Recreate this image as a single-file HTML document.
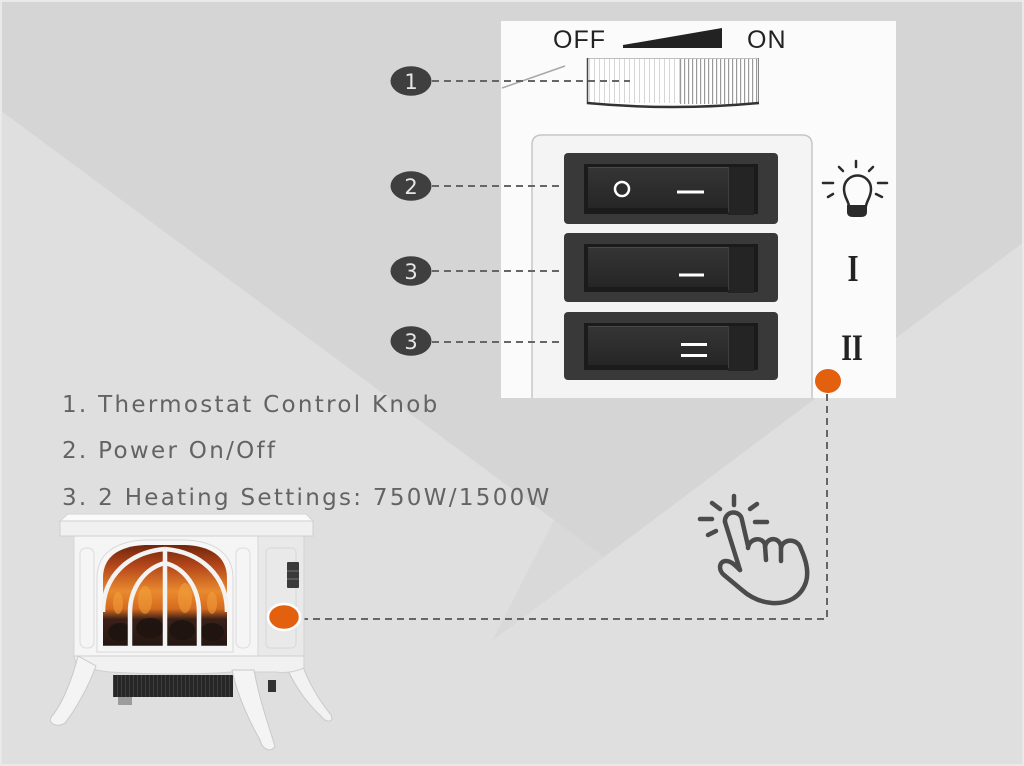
<!DOCTYPE html>
<html><head><meta charset="utf-8">
<style>
html,body{margin:0;padding:0;}
body{width:1024px;height:766px;overflow:hidden;background:#dfdfdf;position:relative;}
svg{position:absolute;left:0;top:0;display:block;}
</style></head><body>
<svg width="1024" height="766" viewBox="0 0 1024 766" xmlns="http://www.w3.org/2000/svg">
<defs>
  <pattern id="ribL" width="5" height="60" patternUnits="userSpaceOnUse" x="589">
    <rect x="0" y="0" width="1" height="60" fill="#d6d6d6"/>
  </pattern>
  <pattern id="ribR" width="4" height="60" patternUnits="userSpaceOnUse" x="680">
    <rect x="0" y="0" width="1.2" height="60" fill="#9a9a9a"/>
  </pattern>
  <linearGradient id="fire" x1="0" y1="0" x2="0" y2="1">
    <stop offset="0" stop-color="#6e260c"/>
    <stop offset="0.2" stop-color="#b4461a"/>
    <stop offset="0.45" stop-color="#e98a2e"/>
    <stop offset="0.62" stop-color="#d56a1e"/>
    <stop offset="0.72" stop-color="#3b2018"/>
    <stop offset="1" stop-color="#221511"/>
  </linearGradient>
  <pattern id="grill" width="4" height="22" patternUnits="userSpaceOnUse" x="113" y="675">
    <rect width="4" height="22" fill="#262626"/>
    <rect x="0" y="0" width="1" height="22" fill="#3e3e3e"/>
  </pattern>
  <linearGradient id="rock" x1="0" y1="0" x2="0" y2="1">
    <stop offset="0" stop-color="#353535"/>
    <stop offset="1" stop-color="#262626"/>
  </linearGradient>
</defs>

<!-- background -->
<rect width="1024" height="766" fill="#dfdfdf"/>
<polygon points="0,0 1024,0 1024,242 604,557 0,110" fill="#d5d5d5"/>
<polygon points="554,520 604,557 492,641" fill="#d9d9d9"/>
<rect x="1" y="1" width="1022" height="764" fill="none" stroke="#e9e9e9" stroke-width="2"/>

<!-- panel -->
<rect x="501" y="21" width="395" height="377" fill="#fbfbfb"/>
<path d="M532,398 V145 Q532,135 542,135 H802 Q812,135 812,145 V398" fill="#f4f4f4" stroke="#c6c6c6" stroke-width="1.5"/>

<!-- OFF / ON -->
<text x="553" y="48" font-family="Liberation Sans, sans-serif" font-size="25" fill="#222" style="letter-spacing:1px">OFF</text>
<text x="747" y="48" font-family="Liberation Sans, sans-serif" font-size="25" fill="#222" style="letter-spacing:1px">ON</text>
<polygon points="623,45 722,28 722,48 623,48" fill="#222"/>

<!-- knob -->
<rect x="587" y="58" width="172" height="46" fill="#ffffff"/>
<rect x="589" y="59" width="91" height="44" fill="url(#ribL)"/>
<rect x="680" y="59" width="78" height="45" fill="url(#ribR)"/>
<line x1="587" y1="58.5" x2="759" y2="58.5" stroke="#bdbdbd" stroke-width="1"/>
<line x1="587.5" y1="58" x2="587.5" y2="104" stroke="#444" stroke-width="1.5"/>
<line x1="758.5" y1="58" x2="758.5" y2="104" stroke="#888" stroke-width="1"/>
<path d="M587,103 Q673,111 759,103" fill="none" stroke="#333" stroke-width="2.5"/>

<!-- thin diagonal -->
<line x1="502" y1="88" x2="565" y2="66" stroke="#a8a8a8" stroke-width="1.5"/>

<!-- switches -->
<g>
  <rect x="564" y="153" width="214" height="71" rx="4" fill="#393939"/>
  <rect x="584" y="164" width="174" height="50" fill="#1b1b1b"/>
  <rect x="588" y="167" width="142" height="41" fill="url(#rock)"/>
  <line x1="588" y1="167.5" x2="742" y2="167.5" stroke="#4a4a4a" stroke-width="1"/>
  <rect x="728" y="167" width="26" height="48" fill="#242424"/>
  <line x1="728.5" y1="167" x2="728.5" y2="212" stroke="#3e3e3e" stroke-width="1"/>
  <circle cx="622" cy="189" r="7" fill="none" stroke="#fff" stroke-width="2.5"/>
  <rect x="677" y="190.5" width="27" height="3" fill="#fff"/>
</g>
<g>
  <rect x="564" y="233" width="214" height="69" rx="4" fill="#393939"/>
  <rect x="584" y="244" width="174" height="48" fill="#1b1b1b"/>
  <rect x="588" y="247" width="142" height="40" fill="url(#rock)"/>
  <line x1="588" y1="247.5" x2="742" y2="247.5" stroke="#4a4a4a" stroke-width="1"/>
  <rect x="728" y="247" width="26" height="46" fill="#242424"/>
  <line x1="728.5" y1="247" x2="728.5" y2="290" stroke="#3e3e3e" stroke-width="1"/>
  <rect x="679" y="273.5" width="25" height="3" fill="#fff"/>
</g>
<g>
  <rect x="564" y="312" width="214" height="68" rx="4" fill="#393939"/>
  <rect x="584" y="323" width="174" height="47" fill="#1b1b1b"/>
  <rect x="588" y="326" width="142" height="39" fill="url(#rock)"/>
  <line x1="588" y1="326.5" x2="742" y2="326.5" stroke="#4a4a4a" stroke-width="1"/>
  <rect x="728" y="326" width="26" height="45" fill="#242424"/>
  <line x1="728.5" y1="326" x2="728.5" y2="368" stroke="#3e3e3e" stroke-width="1"/>
  <rect x="681" y="343" width="26" height="3" fill="#fff"/>
  <rect x="681" y="354" width="26" height="3" fill="#fff"/>
</g>

<!-- bulb icon -->
<g stroke="#2a2a2a" stroke-width="2.5" fill="none" stroke-linecap="round">
  <path d="M849,206 C848,200 844,197 844,189 A13.5,13.5 0 1 1 871,189 C871,197 867,200 866,206"/>
  <line x1="856" y1="161" x2="856" y2="167"/>
  <line x1="839" y1="167" x2="843" y2="171"/>
  <line x1="873" y1="167" x2="869" y2="171"/>
  <line x1="823" y1="183" x2="833" y2="183"/>
  <line x1="878" y1="183" x2="887" y2="183"/>
  <line x1="828" y1="197" x2="833" y2="194"/>
  <line x1="882" y1="197" x2="876" y2="194"/>
</g>
<path d="M847,205 H867 V212 Q867,217 861,217 H853 Q847,217 847,212 Z" fill="#2a2a2a"/>

<text transform="translate(853,281) scale(0.75,1)" text-anchor="middle" font-family="Liberation Serif, serif" font-weight="bold" font-size="38" fill="#222">I</text>
<text transform="translate(852,360) scale(0.75,1)" text-anchor="middle" font-family="Liberation Serif, serif" font-weight="bold" font-size="37" fill="#222">II</text>

<!-- orange dot on panel -->
<ellipse cx="828" cy="381" rx="13" ry="12" fill="#e2600e"/>

<!-- dashed connectors -->
<g stroke="#666" stroke-width="2" stroke-dasharray="7 5" fill="none">
  <line x1="432" y1="81" x2="630" y2="81"/>
  <line x1="432" y1="186" x2="564" y2="186"/>
  <line x1="432" y1="271" x2="564" y2="271"/>
  <line x1="432" y1="342" x2="564" y2="342"/>
  <polyline points="827,394 827,619 302,619"/>
</g>

<!-- number circles -->
<g font-family="DejaVu Sans, sans-serif" font-size="21" fill="#e6e6e6" text-anchor="middle">
  <ellipse cx="411" cy="81" rx="20.5" ry="14.8" fill="#3f3f3f"/>
  <text x="411" y="89">1</text>
  <ellipse cx="411" cy="186" rx="20.5" ry="14.8" fill="#3f3f3f"/>
  <text x="411" y="194">2</text>
  <ellipse cx="411" cy="271" rx="20.5" ry="14.8" fill="#3f3f3f"/>
  <text x="411" y="279">3</text>
  <ellipse cx="411" cy="341" rx="20.5" ry="14.8" fill="#3f3f3f"/>
  <text x="411" y="349">3</text>
</g>

<!-- list text -->
<g font-family="DejaVu Sans, sans-serif" font-size="23" fill="#636363" style="letter-spacing:2.3px">
  <text x="62" y="412">1. Thermostat Control Knob</text>
  <text x="62" y="458">2. Power On/Off</text>
  <text x="62" y="505">3. 2 Heating Settings: 750W/1500W</text>
</g>

<!-- hand icon -->
<g stroke="#4b4b4b" stroke-width="4.5" fill="none" stroke-linecap="round" stroke-linejoin="round">
  <line x1="734" y1="496" x2="734" y2="505"/>
  <line x1="712" y1="503" x2="720" y2="509"/>
  <line x1="700" y1="519" x2="712" y2="519"/>
  <line x1="708" y1="535" x2="716" y2="531"/>
  <line x1="750" y1="509" x2="757" y2="504"/>
  <line x1="755" y1="522" x2="767" y2="522"/>
  <path d="M725,522 A8.5,8.5 0 0 1 742,520 L748,546"/>
  <path d="M748,548 C749,538 763,536 765,545 L766,560"/>
  <path d="M765,547 C767,536 780,537 781,547 L781,561"/>
  <path d="M781,548 C783,538 798,538 801,549 C806,560 809,572 806,582 C801,597 788,604 772,603 C760,602 750,597 742,590 L724,575 C718,570 719,561 726,561 C731,561 735,565 740,570"/>
  <path d="M725,522 L740,570"/>
</g>

<!-- heater -->
<g>
  <!-- back right leg -->
  <path d="M286,666 C296,690 312,708 321,716 C325,723 335,723 331,715 C319,700 309,684 302,664 Z" fill="#f2f2f2" stroke="#c9c9c9" stroke-width="1"/>
  <!-- body side -->
  <rect x="258" y="536" width="46" height="122" fill="#e9e9e9" stroke="#d2d2d2" stroke-width="1"/>
  <rect x="266" y="548" width="30" height="100" rx="4" fill="none" stroke="#d8d8d8" stroke-width="1"/>
  <!-- body front -->
  <rect x="74" y="536" width="184" height="122" fill="#f5f5f5" stroke="#d6d6d6" stroke-width="1"/>
  <rect x="80" y="548" width="14" height="100" rx="6" fill="none" stroke="#dcdcdc" stroke-width="1"/>
  <rect x="236" y="548" width="14" height="100" rx="6" fill="none" stroke="#dcdcdc" stroke-width="1"/>
  <!-- top slab -->
  <polygon points="68,514 306,514 313,521 60,521" fill="#fafafa" stroke="#d4d4d4" stroke-width="1"/>
  <rect x="60" y="521" width="253" height="15" fill="#f0f0f0" stroke="#cfcfcf" stroke-width="1"/>
  <!-- window -->
  <path d="M97,652 L97,578 C97,552 118,541 145,540 L185,540 C212,541 233,552 233,578 L233,652 Z" fill="#f7f7f7" stroke="#d8d8d8" stroke-width="1"/>
  <path d="M103,648 L103,578 C103,556 120,546 145,545 L185,545 C210,546 227,556 227,578 L227,648 Z" fill="url(#fire)"/>
  <g fill="#1e1410" opacity="0.9">
    <ellipse cx="120" cy="632" rx="12" ry="9"/>
    <ellipse cx="150" cy="628" rx="14" ry="10"/>
    <ellipse cx="182" cy="630" rx="13" ry="10"/>
    <ellipse cx="212" cy="632" rx="12" ry="9"/>
  </g>
  <g fill="#f4a23c" opacity="0.55">
    <ellipse cx="145" cy="600" rx="7" ry="14"/>
    <ellipse cx="185" cy="598" rx="7" ry="15"/>
    <ellipse cx="118" cy="603" rx="5" ry="11"/>
    <ellipse cx="212" cy="603" rx="5" ry="11"/>
  </g>
  <g stroke="#f3f3f3" stroke-width="4.5" fill="none">
    <path d="M103,612 C103,575 130,552 165,549"/>
    <path d="M165,549 C200,552 227,575 227,612"/>
    <path d="M130,648 V612 C130,588 145,568 165,563 C185,568 199,588 199,612 V648"/>
    <line x1="165" y1="549" x2="165" y2="648"/>
    <line x1="103" y1="648" x2="227" y2="648"/>
  </g>
  <!-- side controls -->
  <rect x="287" y="562" width="12" height="26" rx="1" fill="#3a3a3a"/>
  <line x1="287" y1="571" x2="299" y2="571" stroke="#777" stroke-width="1"/>
  <line x1="287" y1="579" x2="299" y2="579" stroke="#777" stroke-width="1"/>
  <!-- skirt -->
  <path d="M74,656 H304 V668 Q290,674 276,672 H232 Q180,676 110,672 Q90,670 76,664 Z" fill="#f1f1f1" stroke="#d0d0d0" stroke-width="1"/>
  <!-- grill -->
  <rect x="113" y="675" width="120" height="22" fill="url(#grill)"/>
  <rect x="118" y="697" width="14" height="8" fill="#9c9c9c"/>
  <rect x="268" y="680" width="8" height="12" fill="#333"/>
  <!-- front legs -->
  <path d="M78,656 C72,680 62,704 52,716 C46,724 58,728 65,723 C74,712 88,688 96,666 Z" fill="#f4f4f4" stroke="#c9c9c9" stroke-width="1"/>
  <path d="M232,670 C238,698 251,724 260,740 C262,750 272,753 275,746 C268,724 259,698 254,670 Z" fill="#f4f4f4" stroke="#c9c9c9" stroke-width="1"/>
  <!-- orange dot -->
  <ellipse cx="284" cy="617" rx="16" ry="13" fill="#e2600e" stroke="#ffffff" stroke-width="2.5"/>
</g>
</svg>
</body></html>
